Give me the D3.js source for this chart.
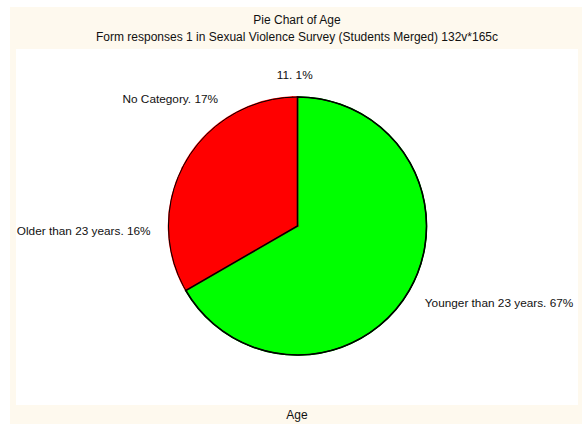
<!DOCTYPE html>
<html><head><meta charset="utf-8">
<script src="https://cdn.jsdelivr.net/npm/d3@7"></script>
<style>body{margin:0;background:#fff;}svg{display:block;font-family:"Liberation Sans",Arial,sans-serif;}</style>
</head><body>
<svg id="c" width="582" height="424"></svg>
<script>
const categories = ["Younger than 23 years", "Older than 23 years", "No Category", "11"];
const counts = [110, 26, 28, 1];
const percentLabels = ["67%", "16%", "17%", "1%"];
const colors = ["#00ff00", "#ff0000", "#ff0000", "#ff0000"];
const title = "Pie Chart of Age";
const subtitle = "Form responses 1 in Sexual Violence Survey (Students Merged) 132v*165c";
const xLabel = "Age";

const svg = d3.select("#c");
svg.append("rect").attr("x",10).attr("y",7).attr("width",572).attr("height",417).attr("fill","#fef9ee");
svg.append("rect").attr("x",16).attr("y",49).attr("width",562).attr("height",356).attr("fill","#ffffff");

svg.append("text").attr("x",297).attr("y",24).attr("text-anchor","middle").attr("font-size",12).attr("fill","#111").text(title);
svg.append("text").attr("x",297).attr("y",41).attr("text-anchor","middle").attr("font-size",12).attr("fill","#111").text(subtitle);
svg.append("text").attr("x",297).attr("y",419).attr("text-anchor","middle").attr("font-size",12).attr("fill","#111").text(xLabel);

const cx = 297.5, cy = 226, r = 129;
const g = svg.append("g").attr("transform",`translate(${cx},${cy})`);
const pie = d3.pie().sort(null).value(d=>d)(counts);
const arc = d3.arc().innerRadius(0).outerRadius(r);

g.selectAll("path.s").data(pie).join("path").attr("class","s")
  .attr("d",arc).attr("fill",(d,i)=>colors[i]).attr("stroke",(d,i)=>colors[i]).attr("stroke-width",1.5);
// outline of the first (green) slice and the whole pie
g.append("path").attr("d",arc(pie[0])).attr("fill","none").attr("stroke","#000").attr("stroke-width",1.6);
g.append("circle").attr("r",r).attr("fill","none").attr("stroke","#000").attr("stroke-width",1);

const R = 147;
g.selectAll("text.l").data(pie).join("text").attr("class","l")
  .each(function(d,i){
    const a = (d.startAngle+d.endAngle)/2;
    const s = Math.sin(a), c = Math.cos(a);
    const px = s*R, py = -c*R;
    const anchor = s>0.2 ? "start" : (s<-0.2 ? "end" : "middle");
    d3.select(this).attr("x",px).attr("y",py - c*5 + 5)
      .attr("text-anchor",anchor).attr("font-size",11.8).attr("fill","#111")
      .text(categories[i]+". "+percentLabels[i]);
  });
</script>
</body></html>
